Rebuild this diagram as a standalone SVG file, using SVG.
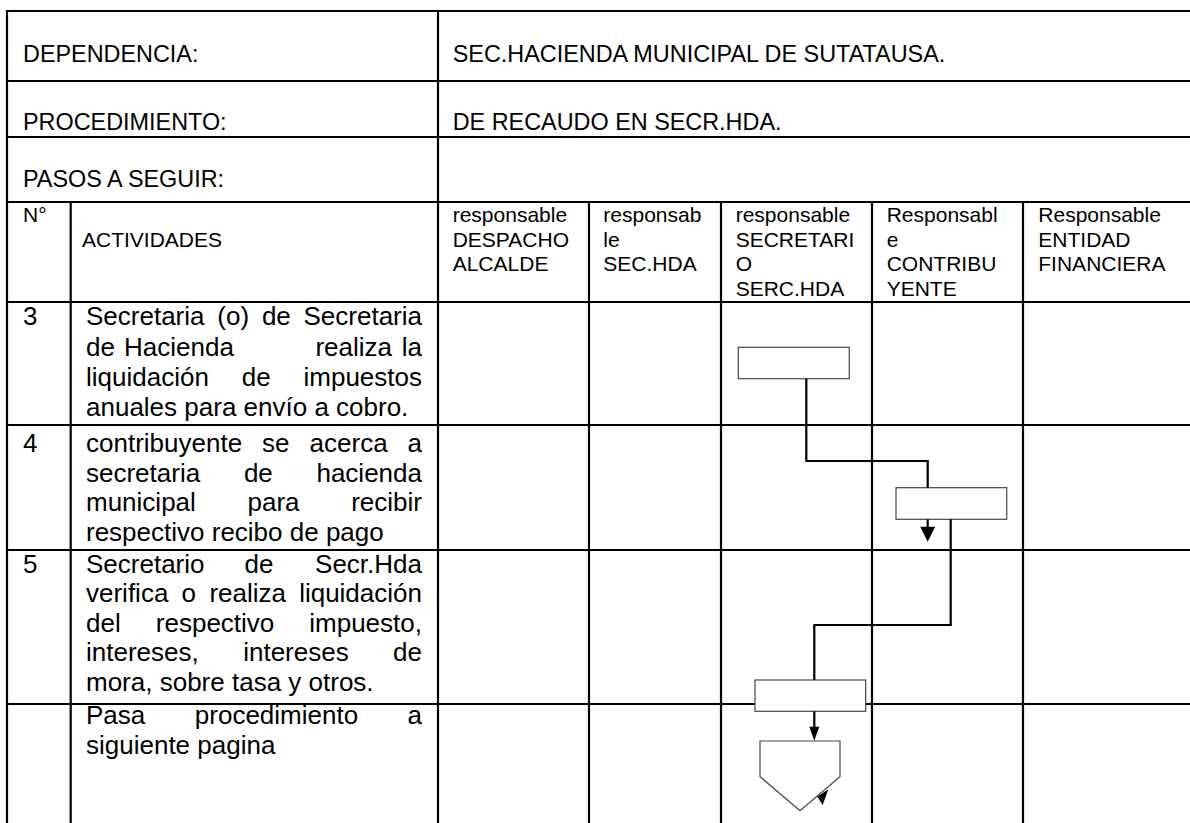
<svg xmlns="http://www.w3.org/2000/svg" width="1190" height="823" viewBox="0 0 1190 823">
<style>
.grid{stroke:#000;stroke-width:2.2;fill:none}
.t{font-family:"Liberation Sans",Arial,sans-serif;fill:#000}
.h{font-size:23.4px}
.c{font-size:21px}
.b{font-size:26px}
.e{text-anchor:end}
.box{fill:#fff;stroke:#444;stroke-width:1.2}
.con{stroke:#000;stroke-width:2.2;fill:none}
.ah{fill:#000;stroke:none}
</style>
<rect width="1190" height="823" fill="#fff"/>
<g id="table">
<path class="grid" d="M7,11H1190 M7,81H1190 M7,137H1190 M7,202H1190 M7,302H1190 M7,425H1190 M7,550H1190 M7,704H1190 M7,10V823 M70.7,202V823 M438,11V823 M589,202V823 M721,202V823 M872,202V823 M1023,202V823"/>
</g>
<g id="header" class="t">
<text class="h" x="23" y="62">DEPENDENCIA:</text>
<text class="h" x="452.7" y="62">SEC.HACIENDA MUNICIPAL DE SUTATAUSA.</text>
<text class="h" x="23" y="130">PROCEDIMIENTO:</text>
<text class="h" x="452.7" y="130">DE RECAUDO EN SECR.HDA.</text>
<text class="h" x="23" y="187">PASOS A SEGUIR:</text>
<text class="c" x="23" y="222">N°</text>
<text class="c" x="82" y="246.5">ACTIVIDADES</text>
<text class="c" x="452.7" y="222">responsable</text>
<text class="c" x="452.7" y="246.5">DESPACHO</text>
<text class="c" x="452.7" y="271">ALCALDE</text>
<text class="c" x="603.3" y="222">responsab</text>
<text class="c" x="603.3" y="246.5">le</text>
<text class="c" x="603.3" y="271">SEC.HDA</text>
<text class="c" x="735.7" y="222">responsable</text>
<text class="c" x="735.7" y="246.5">SECRETARI</text>
<text class="c" x="735.7" y="271">O</text>
<text class="c" x="735.7" y="295.5">SERC.HDA</text>
<text class="c" x="886.7" y="222">Responsabl</text>
<text class="c" x="886.7" y="246.5">e</text>
<text class="c" x="886.7" y="271">CONTRIBU</text>
<text class="c" x="886.7" y="295.5">YENTE</text>
<text class="c" x="1038.3" y="222">Responsable</text>
<text class="c" x="1038.3" y="246.5">ENTIDAD</text>
<text class="c" x="1038.3" y="271">FINANCIERA</text>
</g>
<g id="row3" class="t b">
<text x="23" y="325">3</text>
<text x="86" y="325">Secretaria</text><text x="217.3" y="325">(o)</text><text x="261.9" y="325">de</text><text class="e" x="422" y="325">Secretaria</text>
<text x="86" y="355.5">de</text><text x="124" y="355.5">Hacienda</text><text x="315.4" y="355.5">realiza</text><text class="e" x="422" y="355.5">la</text>
<text x="86" y="386">liquidación</text><text x="241.7" y="386">de</text><text class="e" x="422" y="386">impuestos</text>
<text x="86" y="416">anuales para envío a cobro.</text>
</g>
<g id="row4" class="t b">
<text x="23" y="452">4</text>
<text x="86" y="452">contribuyente</text><text x="262.1" y="452">se</text><text x="309.6" y="452">acerca</text><text class="e" x="422" y="452">a</text>
<text x="86" y="481.5">secretaria</text><text x="243.9" y="481.5">de</text><text class="e" x="422" y="481.5">hacienda</text>
<text x="86" y="511">municipal</text><text x="247.5" y="511">para</text><text class="e" x="422" y="511">recibir</text>
<text x="86" y="540.5">respectivo recibo de pago</text>
</g>
<g id="row5" class="t b">
<text x="23" y="573">5</text>
<text x="86" y="573">Secretario</text><text x="244.6" y="573">de</text><text class="e" x="422" y="573">Secr.Hda</text>
<text x="86" y="602">verifica</text><text x="181.6" y="602">o</text><text x="209.4" y="602">realiza</text><text class="e" x="422" y="602">liquidación</text>
<text x="86" y="631.5">del</text><text x="155.8" y="631.5">respectivo</text><text class="e" x="422" y="631.5">impuesto,</text>
<text x="86" y="661">intereses,</text><text x="243.2" y="661">intereses</text><text class="e" x="422" y="661">de</text>
<text x="86" y="690.5">mora, sobre tasa y otros.</text>
</g>
<g id="row6" class="t b">
<text x="86" y="724">Pasa</text><text x="194.8" y="724">procedimiento</text><text class="e" x="422" y="724">a</text>
<text x="86" y="754">siguiente pagina</text>
</g>
<g id="node1"><rect class="box" x="738.3" y="347.3" width="111" height="31.4"/></g>
<g id="node2"><rect class="box" x="896" y="487.7" width="110.7" height="31.6"/></g>
<g id="node3"><rect class="box" x="755" y="680" width="110.7" height="31.3"/></g>
<g id="node4"><polygon class="box" points="760,741 840,741 840,776.7 800,810.7 760,776.7"/></g>
<g id="connectors">
<path class="con" d="M806.3,378.7V461H927.7V487.7"/>
<path class="con" d="M927.7,519.3V528"/>
<polygon class="ah" points="920.2,526.7 935.2,526.7 927.7,541.7"/>
<path class="con" d="M950.7,519.3V625H814.3V680"/>
<path class="con" d="M814.3,711.3V728"/>
<polygon class="ah" points="809.3,726.7 819.3,726.7 814.3,740.7"/>
<polygon class="ah" points="828.3,789.3 817.3,796.7 822.7,805"/>
</g>
</svg>
